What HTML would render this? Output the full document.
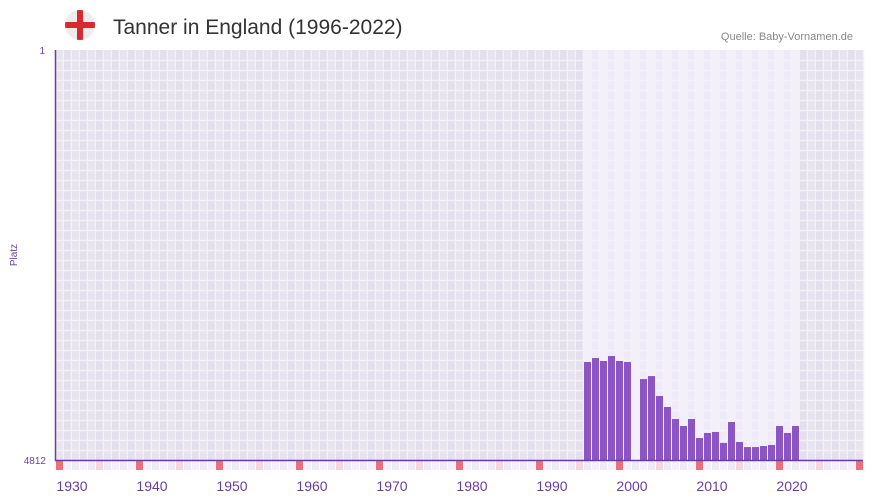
<!DOCTYPE html>
<html><head><meta charset="utf-8"><style>
body{margin:0;width:873px;height:502px;background:#fff;font-family:"Liberation Sans",sans-serif;overflow:hidden;position:relative}
</style></head><body>
<svg width="873" height="502" style="position:absolute;left:0;top:0">
<defs>
<clipPath id="fc"><circle cx="80" cy="25" r="15"/></clipPath>
</defs>
<g clip-path="url(#fc)">
<circle cx="80" cy="25" r="15" fill="#ececec"/>
<rect x="65" y="22" width="30" height="6" fill="#d52b2f"/>
<rect x="77" y="10" width="6" height="30" fill="#d52b2f"/>
</g>
<text x="113" y="34" font-size="21" fill="#333">Tanner in England (1996-2022)</text>
<text x="853" y="40" font-size="11" fill="#888" text-anchor="end">Quelle: Baby-Vornamen.de</text>
<text transform="translate(17,255) rotate(-90)" font-size="10" fill="#6a3ea0" text-anchor="middle">Platz</text>
<text x="45" y="54" font-size="10" fill="#6a3ea0" text-anchor="end">1</text>
<text x="46" y="464" font-size="10" fill="#6a3ea0" text-anchor="end">4812</text>
<g id="bg"></g>
<g id="bars"></g>
<g id="strip"></g>
<g id="xl"></g>
<line x1="55.5" y1="50" x2="55.5" y2="461" stroke="#6a3ea0" stroke-width="1.5"/>
<line x1="55" y1="460.5" x2="863" y2="460.5" stroke="#6a3ea0" stroke-width="1.5"/>
</svg>
<script>
const years=[1996,1997,1998,1999,2000,2001,2002,2003,2004,2005,2006,2007,2008,2009,2010,2011,2012,2013,2014,2015,2016,2017,2018,2019,2020,2021,2022];
const ranks=[3662,3615,3650,3592,3650,3662,null,3862,3827,4061,4190,4331,4413,4331,4554,4495,4483,4612,4366,4601,4660,4660,4648,4636,4413,4495,4413];
const xTicks=[1930,1940,1950,1960,1970,1980,1990,2000,2010,2020];
const NS="http://www.w3.org/2000/svg";
const X0=56,CW=8,Y0=1930,TOP=50,BOT=460,RMAX=4812;
const xs=y=>X0+(y-Y0)*CW;
const ys=r=>TOP+(r-1)/(RMAX-1)*(BOT-TOP);
function mk(t,a,p){const e=document.createElementNS(NS,t);for(const k in a)e.setAttribute(k,a[k]);p.appendChild(e);return e;}
const bg=document.getElementById('bg');
for(let i=0;i<101;i++){
 const yr=Y0+i;const x=xs(yr);if(x>=863)break;
 const inRange=yr>=years[0]&&yr<=years[years.length-1];
 const c=inRange?(i%2?'#efeaf8':'#f3f0fb'):(i%2?'#e3dfec':'#e7e3ef');
 const r=mk('rect',{x:x,y:TOP,width:CW,height:BOT-TOP,fill:c},bg);
 
 
 mk('line',{x1:x+7.5,y1:TOP,x2:x+7.5,y2:BOT,stroke:'#f4f2f6','stroke-width':1.5},bg);
}
for(let y=TOP+10;y<BOT;y+=10){mk('line',{x1:56,y1:y+0.5,x2:863,y2:y+0.5,stroke:'#f4f2f6','stroke-width':1.5},bg);}
const bars=document.getElementById('bars');
years.forEach((yr,i)=>{const r=ranks[i];if(r==null)return;
 const y=ys(r);
 const b=mk('rect',{x:xs(yr),y:y,width:CW-1,height:BOT-y,fill:'#8c55c6'},bars);
 
 
});
const st=document.getElementById('strip');
for(let i=0;i<101;i++){const x=xs(Y0+i);if(x>=863)break;
 const c=i%10==0?'#e8727c':(i%5==0?'#f5d7e0':(i%2?'#f3f0fb':'#efeaf8'));
 const r=mk('rect',{x:x,y:461,width:CW-1,height:9,fill:c},st);
 
 
}
const xl=document.getElementById('xl');
xTicks.forEach(t=>{const e=mk('text',{x:xs(t)+16,y:491,'font-size':14,fill:'#6a3ea0','text-anchor':'middle'},xl);e.textContent=t;
 
 
});
</script>
</body></html>
